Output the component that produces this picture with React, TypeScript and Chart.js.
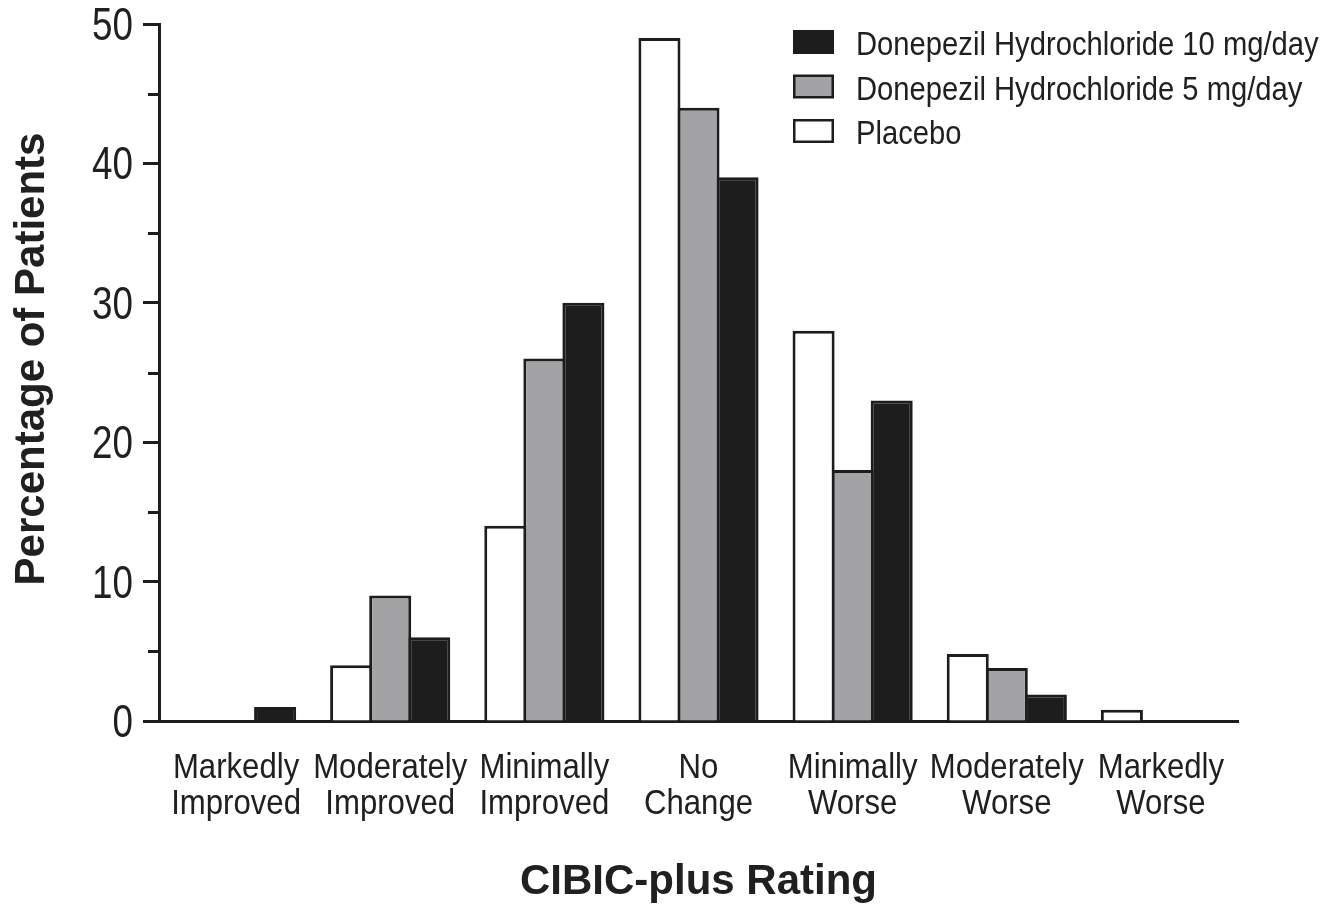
import React, { useEffect, useRef } from "react";
import { Chart, registerables } from "chart.js";

Chart.register(...registerables);

// ---------- data ----------
const categories: string[][] = [
  ["Markedly", "Improved"],
  ["Moderately", "Improved"],
  ["Minimally", "Improved"],
  ["No", "Change"],
  ["Minimally", "Worse"],
  ["Moderately", "Worse"],
  ["Markedly", "Worse"],
];
const placeboValues = [0, 4, 14, 49, 28, 4.8, 0.8];
const dose5Values = [0, 9, 26, 44, 18, 3.8, 0];
const dose10Values = [1, 6, 30, 39, 23, 1.9, 0];
const yTickLabels = [0, 10, 20, 30, 40, 50];
const seriesNames = [
  "Placebo",
  "Donepezil Hydrochloride 5 mg/day",
  "Donepezil Hydrochloride 10 mg/day",
];
const yTitle = "Percentage of Patients";
const xTitle = "CIBIC-plus Rating";

// ---------- styles ----------
const INK = "#1d1d1d";
const TEXT = "#202020";
const FILLS = ["#ffffff", "#a3a3a5", "#1d1d1d"];
const SANS = "'Liberation Sans', Arial, sans-serif";

function drawCondensed(
  ctx: CanvasRenderingContext2D,
  text: string,
  x: number,
  y: number,
  size: number,
  sx: number,
  align: CanvasTextAlign
) {
  ctx.save();
  ctx.translate(x, y);
  ctx.scale(sx, 1);
  ctx.font = `${size}px ${SANS}`;
  ctx.fillStyle = TEXT;
  ctx.textAlign = align;
  ctx.textBaseline = "alphabetic";
  ctx.fillText(text, 0, 0);
  ctx.restore();
}

const overlayPlugin = {
  id: "overlay",
  afterDraw(chart: any) {
    const ctx = chart.ctx as CanvasRenderingContext2D;
    const yScale = chart.scales.y;
    const xScale = chart.scales.x;
    const { left, bottom } = chart.chartArea;
    ctx.save();
    // minor ticks
    ctx.strokeStyle = INK;
    ctx.lineWidth = 3;
    for (const t of yScale.ticks) {
      if (!yTickLabels.includes(t.value)) {
        const py = Math.round(yScale.getPixelForValue(t.value)) + 0.5;
        ctx.beginPath();
        ctx.moveTo(left - 11, py);
        ctx.lineTo(left, py);
        ctx.stroke();
      }
    }
    // y tick labels (condensed)
    for (const v of yTickLabels) {
      const py = yScale.getPixelForValue(v);
      drawCondensed(ctx, String(v), left - 26, py + 16, 46, 0.8, "right");
    }
    // x category labels (condensed, two lines)
    categories.forEach((lines, i) => {
      const px = xScale.getPixelForValue(i);
      lines.forEach((line, j) => {
        drawCondensed(ctx, line, px, bottom + 57 + j * 36, 35, 0.89, "center");
      });
    });
    // y title
    ctx.save();
    ctx.translate(44, 359);
    ctx.rotate(-Math.PI / 2);
    ctx.font = `bold 42px ${SANS}`;
    ctx.fillStyle = TEXT;
    ctx.textAlign = "center";
    ctx.textBaseline = "alphabetic";
    ctx.fillText(yTitle, 0, 0);
    ctx.restore();
    // legend (reverse dataset order)
    const ds = chart.data.datasets.slice().reverse();
    const boxX = 793;
    const boxW = 41;
    const boxH = 24;
    const top0 = 30;
    const pitch = 44.5;
    ds.forEach((d: any, i: number) => {
      const top = top0 + i * pitch;
      ctx.fillStyle = INK;
      ctx.fillRect(boxX, top, boxW, boxH);
      ctx.fillStyle = d.backgroundColor;
      ctx.fillRect(boxX + 2.5, top + 2.5, boxW - 5, boxH - 5);
      drawCondensed(ctx, d.label, 856, top + 25, 33, 0.885, "left");
    });
    ctx.restore();
  },
};

export default function App() {
  const canvasRef = useRef<HTMLCanvasElement | null>(null);

  useEffect(() => {
    document.body.style.margin = "0";
    const canvas = canvasRef.current;
    if (!canvas) return;
    const values = [placeboValues, dose5Values, dose10Values];
    const chart = new Chart(canvas, {
      type: "bar",
      data: {
        labels: categories,
        datasets: seriesNames.map((name, i) => ({
          label: name,
          data: values[i],
          backgroundColor: FILLS[i],
          borderColor: INK,
          borderWidth: 3,
          categoryPercentage: 0.76,
          barPercentage: 1.077,
        })),
      },
      options: {
        responsive: false,
        animation: false,
        devicePixelRatio: 1,
        layout: { padding: { top: 24, right: 92, left: 0, bottom: 0 } },
        plugins: {
          legend: { display: false },
          tooltip: { enabled: false },
        },
        scales: {
          x: {
            grid: { display: false },
            border: { display: true, color: INK, width: 3 },
            ticks: {
              callback: () => "",
              maxRotation: 0,
              autoSkip: false,
            },
            title: {
              display: true,
              text: xTitle,
              color: TEXT,
              font: { family: SANS, size: 42, weight: "bold", lineHeight: 1.2 },
              padding: { top: 0, bottom: -1 },
            },
            afterFit(scale: any) {
              scale.height = 186;
            },
          },
          y: {
            min: 0,
            max: 50,
            grid: {
              drawOnChartArea: false,
              tickLength: 16,
              tickWidth: 3,
              tickColor: (c: any) =>
                c.tick && yTickLabels.includes(c.tick.value) ? INK : "rgba(0,0,0,0)",
            },
            border: { display: true, color: INK, width: 3 },
            ticks: {
              stepSize: 5,
              padding: 10,
              font: { family: SANS, size: 20, lineHeight: 1 },
              callback: () => "",
            },
            afterFit(scale: any) {
              scale.width = 159;
            },
          },
        },
      },
      plugins: [overlayPlugin],
    });
    return () => chart.destroy();
  }, []);

  return (
    <div style={{ width: 1330, height: 907, background: "#fff" }}>
      <canvas ref={canvasRef} width={1330} height={907} />
    </div>
  );
}
